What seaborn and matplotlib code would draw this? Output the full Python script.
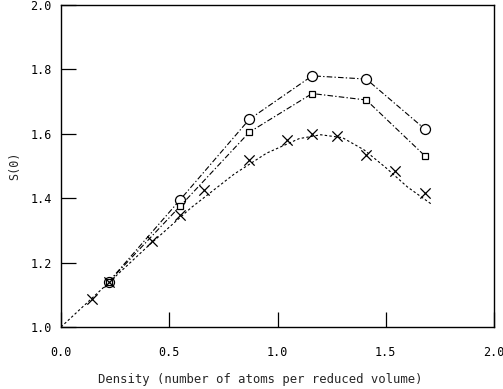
import matplotlib
matplotlib.use("Agg")
import matplotlib.pyplot as plt
import seaborn as sns
import pandas as pd

# Structure factor S(0) versus reduced density
density_open = [0.22, 0.55, 0.87, 1.16, 1.41, 1.68]
s0_circles = [1.14, 1.395, 1.645, 1.78, 1.77, 1.615]
s0_squares = [1.14, 1.375, 1.605, 1.725, 1.705, 1.532]

density_cross = [0.145, 0.22, 0.42, 0.55, 0.66, 0.87, 1.045, 1.16, 1.275, 1.41, 1.545, 1.68]
s0_cross = [1.088, 1.14, 1.268, 1.348, 1.425, 1.52, 1.58, 1.598, 1.592, 1.535, 1.485, 1.415]

# Smooth reference curve read along its path
curve_density = [0.0, 0.2, 0.4, 0.6, 0.8, 0.95, 1.1, 1.2, 1.3, 1.4, 1.5, 1.6, 1.71]
curve_s0 = [1.0, 1.125, 1.25, 1.37, 1.475, 1.54, 1.585, 1.597, 1.588, 1.55, 1.495, 1.435, 1.382]

x_ticks = [0.0, 0.5, 1.0, 1.5, 2.0]
y_ticks = [1.0, 1.2, 1.4, 1.6, 1.8, 2.0]

sns.set_style("ticks")
plt.rcParams["font.family"] = ["DejaVu Sans Mono"]

fig = plt.figure(figsize=(5.03, 3.89), dpi=100)
ax = fig.add_axes([61 / 503, 1 - 327 / 389, 433 / 503, 322 / 389])

df_c = pd.DataFrame({"x": density_open, "y": s0_circles})
df_s = pd.DataFrame({"x": density_open, "y": s0_squares})
df_x = pd.DataFrame({"x": density_cross, "y": s0_cross})
df_curve = pd.DataFrame({"x": curve_density, "y": curve_s0})

sns.lineplot(data=df_curve, x="x", y="y", ax=ax, color="black", lw=0.8,
             linestyle=(0, (2.2, 2.0)), sort=False)
sns.lineplot(data=df_c, x="x", y="y", ax=ax, color="black", lw=0.8,
             linestyle=(0, (5, 2, 1.2, 2)), marker="o", markersize=7.2,
             markerfacecolor="white", markeredgecolor="black", markeredgewidth=0.9,
             sort=False)
sns.lineplot(data=df_s, x="x", y="y", ax=ax, color="black", lw=0.8,
             linestyle=(0, (5, 2, 1.2, 2)), marker="s", markersize=5,
             markerfacecolor="white", markeredgecolor="black", markeredgewidth=0.9,
             sort=False)
sns.scatterplot(data=df_x, x="x", y="y", ax=ax, color="black", marker="x",
                s=55, linewidth=0.9, zorder=5)

ax.set_xlim(0, 2)
ax.set_ylim(1.0, 2.0)
ax.set_xticks(x_ticks)
ax.set_yticks(y_ticks)
ax.set_xticklabels([f"{v:.1f}" for v in x_ticks])
ax.set_yticklabels([f"{v:.1f}" for v in y_ticks])
ax.tick_params(direction="in", length=11, width=0.9, colors="black",
               labelsize=8.5)
ax.tick_params(axis="x", pad=14)
ax.tick_params(axis="y", pad=6.5)
for sp in ax.spines.values():
    sp.set_linewidth(1.0)
    sp.set_color("black")
    sp.set_visible(True)

ax.set_xlabel("Density (number of atoms per reduced volume)", fontsize=8.8)
ax.xaxis.set_label_coords(0.46, -0.143)
ax.set_ylabel("S(0)", fontsize=8.5)
ax.yaxis.set_label_coords(-0.092, 0.5)

fig.savefig("out.png", dpi=100, facecolor="white")
